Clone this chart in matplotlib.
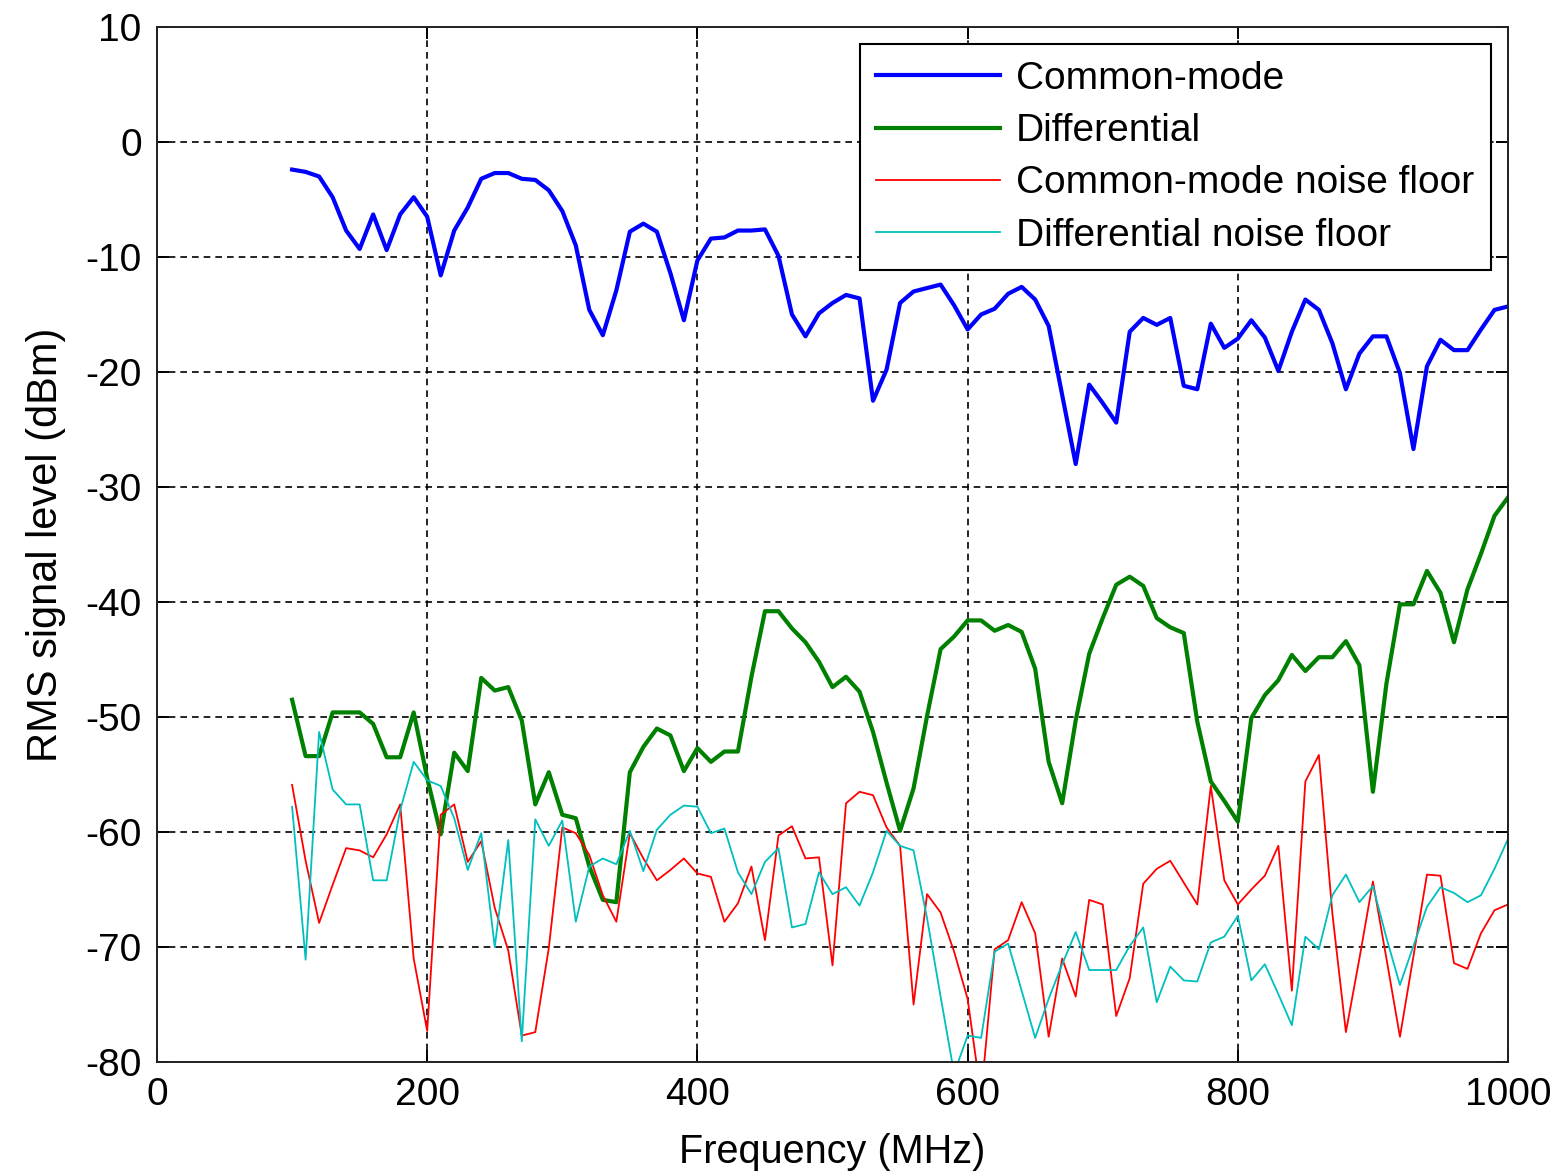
import matplotlib
matplotlib.use('Agg')
import matplotlib.pyplot as plt
import numpy as np

# frequency points, 10 MHz steps from 100 to 1000 MHz
freq_mhz = list(range(100, 1001, 10))

common_mode = [
    -2.4, -2.6, -3.0, -4.8, -7.7, -9.3, -6.3, -9.4, -6.3, -4.8,
    -6.5, -11.6, -7.7, -5.7, -3.2, -2.7, -2.7, -3.2, -3.3, -4.2,
    -6.0, -9.0, -14.6, -16.8, -12.9, -7.8, -7.1, -7.8, -11.4, -15.5,
    -10.3, -8.4, -8.3, -7.7, -7.7, -7.6, -9.9, -15.0, -16.9, -14.9,
    -14.0, -13.3, -13.6, -22.5, -19.8, -14.0, -13.0, -12.7, -12.4, -14.2,
    -16.3, -15.0, -14.5, -13.2, -12.6, -13.7, -16.0, -22.0, -28.0, -21.1,
    -22.7, -24.4, -16.5, -15.3, -15.9, -15.3, -21.2, -21.5, -15.8, -17.9,
    -17.1, -15.5, -17.0, -19.9, -16.5, -13.7, -14.6, -17.5, -21.5, -18.4,
    -16.9, -16.9, -20.1, -26.7, -19.5, -17.2, -18.1, -18.1, -16.3, -14.6,
    -14.3,
]

differential = [
    -48.5, -53.4, -53.4, -49.6, -49.6, -49.6, -50.6, -53.5, -53.5, -49.6,
    -55.3, -60.2, -53.1, -54.7, -46.6, -47.7, -47.4, -50.3, -57.6, -54.8,
    -58.5, -58.8, -63.0, -65.9, -66.1, -54.8, -52.6, -51.0, -51.6, -54.7,
    -52.7, -53.9, -53.0, -53.0, -46.5, -40.8, -40.8, -42.3, -43.5, -45.2,
    -47.4, -46.5, -47.8, -51.3, -55.7, -59.9, -56.2, -49.9, -44.1, -43.0,
    -41.6, -41.6, -42.5, -42.0, -42.6, -45.8, -53.9, -57.5, -50.3, -44.5,
    -41.4, -38.5, -37.8, -38.6, -41.4, -42.2, -42.7, -50.4, -55.6, -57.3,
    -59.1, -50.1, -48.1, -46.8, -44.6, -46.0, -44.8, -44.8, -43.4, -45.5,
    -56.5, -47.1, -40.2, -40.2, -37.3, -39.2, -43.5, -38.9, -35.8, -32.5,
    -30.9,
]

cm_noise_floor = [
    -55.9, -62.5, -67.9, -64.6, -61.4, -61.6, -62.2, -60.2, -57.6, -71.0,
    -77.3, -58.5, -57.6, -62.6, -60.8, -66.6, -70.3, -77.7, -77.4, -70.1,
    -59.6, -60.1, -62.0, -65.5, -67.8, -60.1, -62.3, -64.2, -63.3, -62.3,
    -63.6, -63.9, -67.8, -66.2, -63.0, -69.4, -60.3, -59.5, -62.3, -62.2,
    -71.6, -57.5, -56.5, -56.8, -59.6, -61.2, -75.0, -65.4, -67.0, -70.4,
    -74.5, -83.0, -70.2, -69.4, -66.1, -68.8, -77.8, -71.0, -74.3, -65.9,
    -66.3, -76.0, -72.7, -64.5, -63.2, -62.5, -64.4, -66.3, -56.0, -64.2,
    -66.3, -65.0, -63.8, -61.2, -73.8, -55.6, -53.3, -67.1, -77.4, -71.0,
    -64.3, -71.0, -77.8, -70.8, -63.7, -63.8, -71.4, -71.9, -68.8, -66.8,
    -66.3,
]

dm_noise_floor = [
    -57.8, -71.1, -51.3, -56.3, -57.6, -57.6, -64.2, -64.2, -58.1, -53.9,
    -55.5, -56.0, -58.8, -63.3, -60.1, -70.0, -60.7, -78.2, -58.9, -61.2,
    -59.0, -67.8, -63.0, -62.3, -62.8, -59.9, -63.4, -59.8, -58.5, -57.7,
    -57.8, -60.1, -59.7, -63.5, -65.4, -62.6, -61.4, -68.3, -68.0, -63.5,
    -65.4, -64.8, -66.4, -63.5, -59.9, -61.2, -61.6, -67.5, -74.3, -81.0,
    -77.7, -77.9, -70.4, -69.7, -73.8, -77.9, -74.5, -71.5, -68.7, -72.0,
    -72.0, -72.0, -69.9, -68.3, -74.8, -71.7, -72.9, -73.0, -69.6, -69.1,
    -67.3, -72.9, -71.5, -74.1, -76.8, -69.1, -70.2, -65.5, -63.7, -66.1,
    -64.7, -69.2, -73.3, -69.9, -66.5, -64.8, -65.3, -66.1, -65.5, -63.2,
    -60.6,
]

series_labels = ['Common-mode', 'Differential',
                 'Common-mode noise floor', 'Differential noise floor']

plt.rcParams['font.family'] = ['Liberation Sans', 'DejaVu Sans']
plt.rcParams['axes.unicode_minus'] = False
plt.rc('font', size=28)

fig = plt.figure(figsize=(15.59, 11.73), dpi=100)
ax = fig.add_axes([0.1007, 0.0946, 0.8666, 0.8824])

ax.plot(freq_mhz, common_mode, color=(0, 0, 1), linewidth=3.0, label=series_labels[0])
ax.plot(freq_mhz, differential, color=(0, 0.5, 0), linewidth=3.0, label=series_labels[1])
ax.plot(freq_mhz, cm_noise_floor, color=(1, 0, 0), linewidth=1.3, label=series_labels[2])
ax.plot(freq_mhz, dm_noise_floor, color=(0, 0.75, 0.75), linewidth=1.3, label=series_labels[3])

ax.set_xlim(0, 1000)
ax.set_ylim(-80, 10)
ax.set_xticks(np.arange(0, 1001, 200))
ax.set_yticks(np.arange(-80, 11, 10))

ax.grid(True, color='black', linestyle=(0, (4, 3)), linewidth=1.2)
ax.tick_params(direction='in', length=8.5, width=1.4, top=True, right=True,
               labelsize=28, colors='black')
ax.tick_params(axis='x', pad=11)
ax.tick_params(axis='y', pad=11)
for sp in ax.spines.values():
    sp.set_linewidth(1.4)
    sp.set_color('#222222')

ax.set_xlabel('Frequency (MHz)', fontsize=28.5, labelpad=14)
ax.set_ylabel('RMS signal level (dBm)', fontsize=30, labelpad=14)

leg = ax.legend(loc='upper right', fontsize=28, frameon=True, fancybox=False,
                edgecolor='black', framealpha=1, borderaxespad=0.45,
                borderpad=0.42, handlelength=3.2, handletextpad=0.4,
                labelspacing=0.42)
leg.get_frame().set_linewidth(1.5)

plt.savefig('out.png', dpi=100)
